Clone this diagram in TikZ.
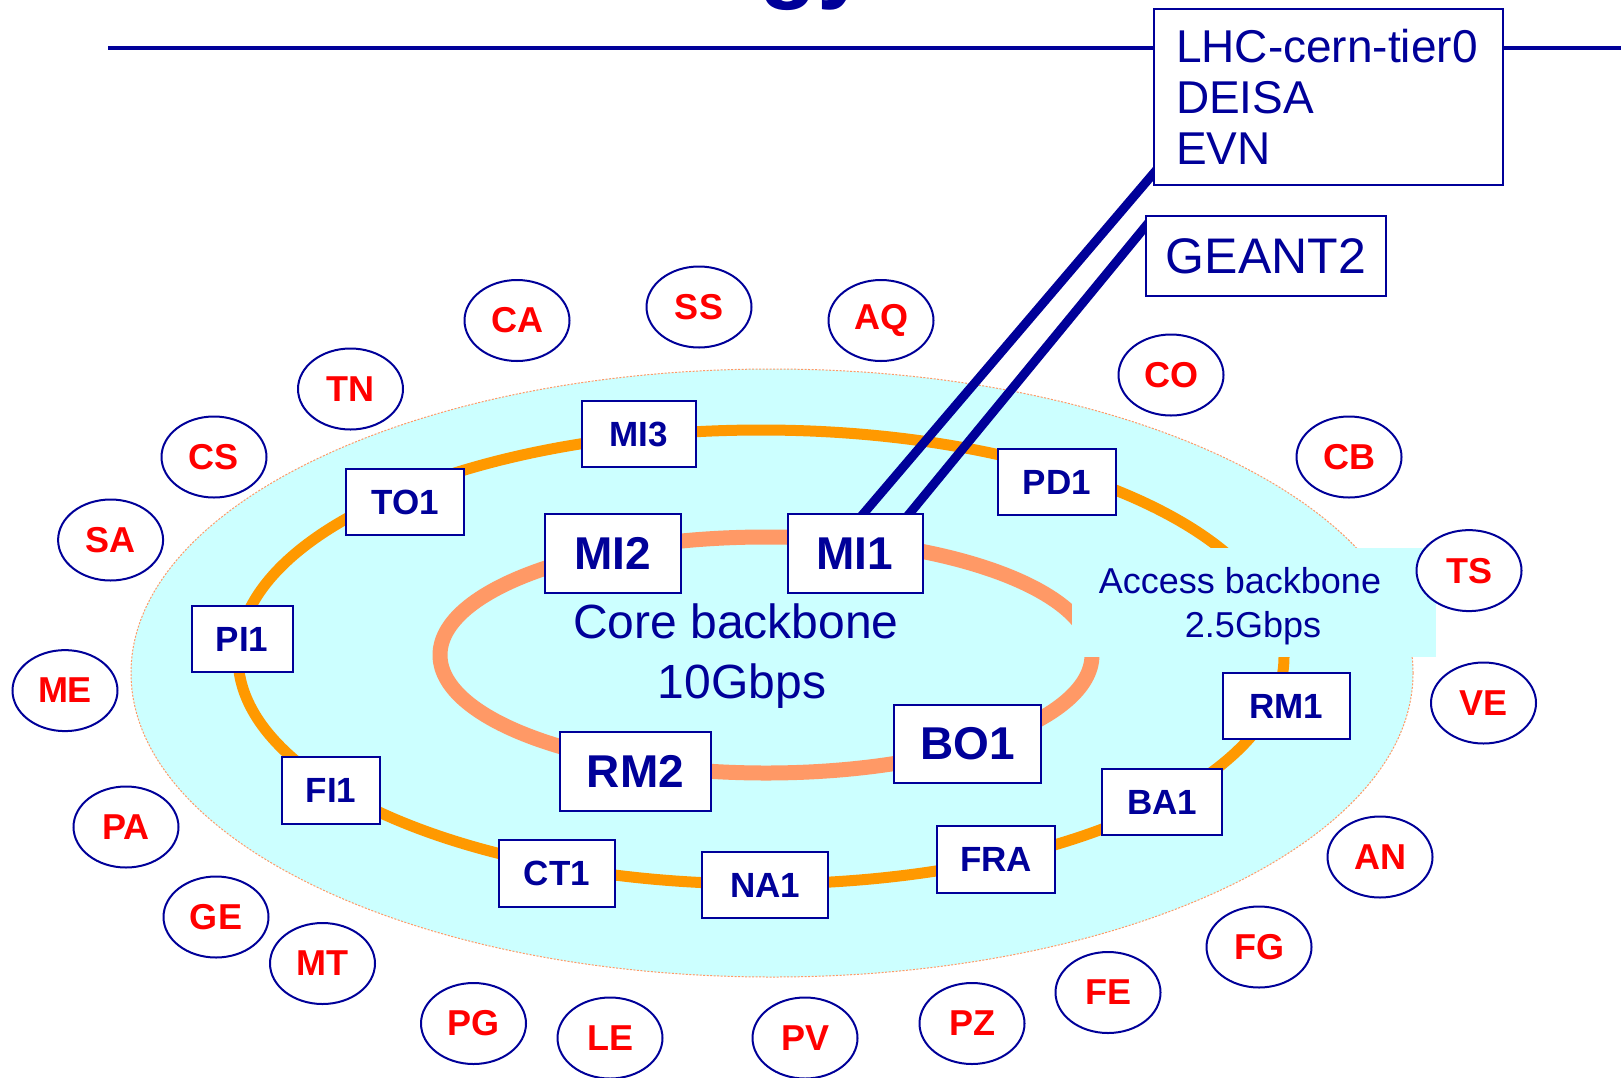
\documentclass[tikz,border=0pt]{standalone}
\usepackage{fontspec}
\setmainfont{Liberation Sans}
\usetikzlibrary{shapes.geometric,calc}
\definecolor{dblue}{HTML}{000099}
\definecolor{netred}{HTML}{FF0000}
\definecolor{ringorange}{HTML}{FF9900}
\definecolor{ringsalmon}{HTML}{FF9966}
\definecolor{areacyan}{HTML}{CCFFFF}
\pgfdeclarelayer{background}
\pgfsetlayers{background,main}
\begin{document}
\begin{tikzpicture}[x=1pt,y=-1pt,
  sbox/.style={draw=dblue, line width=2pt, fill=white, inner sep=0pt, text=dblue,
    font=\bfseries\fontsize{35}{42}\selectfont},
  lbox/.style={sbox, font=\bfseries\fontsize{46}{55}\selectfont},
  site/.style={ellipse, draw=dblue, line width=2pt, fill=white, inner sep=0pt,
    minimum width=105pt, minimum height=81pt, text=netred,
    font=\bfseries\fontsize{36}{43}\selectfont},
  extbox/.style={draw=dblue, line width=2pt, fill=white, text=dblue},
  label48/.style={text=dblue, inner sep=0pt, anchor=base, font=\fontsize{48}{58}\selectfont},
  label36/.style={text=dblue, inner sep=0pt, anchor=base, font=\fontsize{36}{44}\selectfont},
  uplink/.style={dblue, line width=9pt, shorten <=-8pt, shorten >=-8pt},
  topline/.style={dblue, line width=3.5pt}
]
\useasboundingbox (0,0) rectangle (1621,1077);

% cut-off title fragment
\begin{scope}
  \clip (0,0) rectangle (1621,1077);
  \node[anchor=base west, inner sep=0pt, text=dblue, font=\bfseries\fontsize{95}{105}\selectfont] (title) at (759,-10) {gy};
\end{scope}

% external links
\node[extbox, anchor=north west, minimum width=349pt, minimum height=176pt,
  inner xsep=22pt, inner ysep=0pt, text width=305pt, align=left,
  font=\fontsize{46}{51}\selectfont] (lhc) at (1153,8) {LHC-cern-tier0\\DEISA\\EVN};
\node[extbox, minimum width=240pt, minimum height=80pt, inner sep=0pt,
  font=\fontsize{50}{60}\selectfont] (geant) at (1266,256) {GEANT2};
\coordinate (ruleL) at (108,48);
\coordinate (ruleR) at (1621,48);

% backbone routers
\node[sbox, minimum width=114pt, minimum height=66pt] (MI3) at (639,434) {MI3};
\node[sbox, minimum width=118pt, minimum height=66pt] (TO1) at (405,502) {TO1};
\node[sbox, minimum width=101pt, minimum height=66pt] (PI1) at (242,639) {PI1};
\node[lbox, minimum width=136pt, minimum height=79pt] (MI2) at (613,553.5) {MI2};
\node[lbox, minimum width=135pt, minimum height=79pt] (MI1) at (855,553.5) {MI1};
\node[sbox, minimum width=118pt, minimum height=66pt] (PD1) at (1057,482) {PD1};
\node[sbox, minimum width=127pt, minimum height=66pt] (RM1) at (1286.5,706) {RM1};
\node[lbox, minimum width=147pt, minimum height=78pt] (BO1) at (967.5,744) {BO1};
\node[sbox, minimum width=120pt, minimum height=66pt] (BA1) at (1162,802) {BA1};
\node[sbox, minimum width=118pt, minimum height=67pt] (FRA) at (996,859.5) {FRA};
\node[sbox, minimum width=126pt, minimum height=66pt] (NA1) at (765,885) {NA1};
\node[sbox, minimum width=116pt, minimum height=67pt] (CT1) at (557,873.5) {CT1};
\node[sbox, minimum width=98pt, minimum height=67pt] (FI1) at (331,790.5) {FI1};
\node[lbox, minimum width=151pt, minimum height=79pt] (RM2) at (635.5,771.5) {RM2};

% ring labels
\node[label48] (core1) at (736,638) {Core backbone};
\node[label48] (core2) at (742,698) {10Gbps};
\node[label36] (acc1) at (1240,593) {Access backbone};
\node[label36] (acc2) at (1253,637) {2.5Gbps};

% access sites
\node[site] (CA) at (517,320.5) {CA};
\node[site] (SS) at (699,307) {SS};
\node[site] (AQ) at (881,320.5) {AQ};
\node[site] (TN) at (350.5,389) {TN};
\node[site] (CS) at (214,457) {CS};
\node[site] (SA) at (110.6,540) {SA};
\node[site] (ME) at (65,690.6) {ME};
\node[site] (PA) at (126,827) {PA};
\node[site] (GE) at (216,917) {GE};
\node[site] (MT) at (322.5,963.5) {MT};
\node[site] (PG) at (473.5,1023.5) {PG};
\node[site] (LE) at (610,1038) {LE};
\node[site] (PV) at (805,1038) {PV};
\node[site] (PZ) at (972,1023.5) {PZ};
\node[site] (FE) at (1108,992.5) {FE};
\node[site] (FG) at (1259,947) {FG};
\node[site] (AN) at (1380,857) {AN};
\node[site] (VE) at (1483.5,703) {VE};
\node[site] (TS) at (1469,570.6) {TS};
\node[site] (CB) at (1349,457) {CB};
\node[site] (CO) at (1171,375) {CO};

\begin{pgfonlayer}{background}
  \fill[white] (0,0) rectangle (1621,1077);
  \draw[fill=areacyan, draw=ringsalmon, line width=1pt, dash pattern=on 2pt off 1.5pt]
    (772,673) ellipse [x radius=641pt, y radius=304pt];
  \draw[ringorange, line width=11pt] (761,657) ellipse [x radius=523pt, y radius=227pt];
  \draw[ringsalmon, line width=15pt] (766,655) ellipse [x radius=326pt, y radius=118pt];
  \fill[areacyan] (1072,548) rectangle (1436,657);
  \draw[topline] (ruleL) -- (ruleR);
  \draw[uplink] ([xshift=9pt]MI1.north) -- ($(lhc.south west)+(0,-12)$);
  \draw[uplink] ([xshift=55pt]MI1.north) -- ($(geant.north west)+(0,12)$);
\end{pgfonlayer}
\end{tikzpicture}
\end{document}
